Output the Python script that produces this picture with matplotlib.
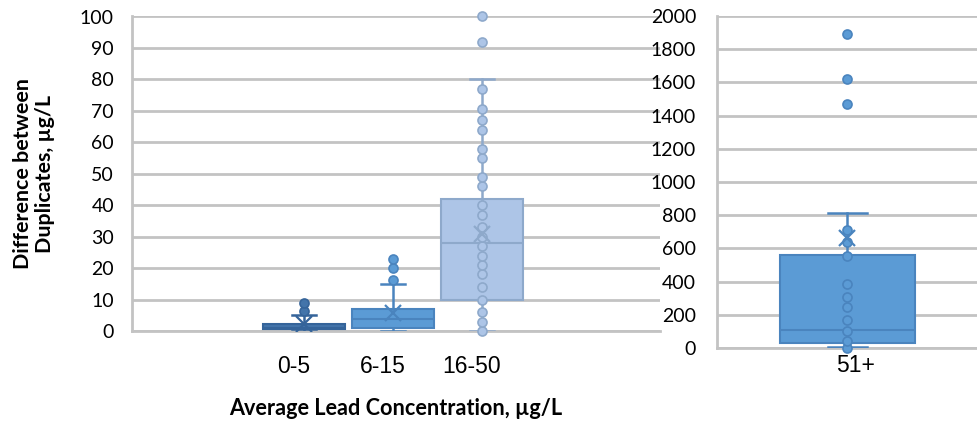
import matplotlib
matplotlib.use("Agg")
import matplotlib.pyplot as plt
from matplotlib.transforms import ScaledTranslation

# left panel: low concentration groups
cats_left = ["0-5", "6-15", "16-50"]
q1_left = [0.5, 1.0, 10.0]
med_left = [1.0, 3.7, 28.0]
q3_left = [2.3, 7.0, 42.0]
wlo_left = [0.0, 0.0, 0.0]
whi_left = [5.0, 15.0, 80.0]
mean_left = [2.2, 5.6, 31.0]
pts_left = [
    [6.3, 9.0],
    [16.2, 20.0, 23.0],
    [0, 3, 6, 10, 14, 18, 21, 24, 27, 30, 33, 37, 40, 46, 49, 55, 58, 64,
     67, 70.5, 77, 92, 100],
]

# right panel: 51+
cats_right = ["51+"]
q1_right = [32.0]
med_right = [110.0]
q3_right = [560.0]
wlo_right = [5.0]
whi_right = [815.0]
mean_right = [665.0]
pts_right = [[0, 45, 100, 170, 250, 310, 385, 555, 640, 710, 1470, 1620, 1890]]

face_left = ["#4374AA", "#5B9BD5", "#ADC5E7"]
edge_left = ["#35649A", "#4A84BE", "#8EA9CB"]
face_right = ["#5B9BD5"]
edge_right = ["#4A84BE"]
GRID = "#C3C3C3"


def draw_panel(ax, cats, q1, med, q3, wlo, whi, mean, pts, faces, edges,
               positions, width, capw):
    stats = []
    for i, c in enumerate(cats):
        stats.append(dict(label=c, q1=q1[i], med=med[i], q3=q3[i],
                          whislo=wlo[i], whishi=whi[i], mean=mean[i], fliers=[]))
    for i, s in enumerate(stats):
        ax.bxp([s], positions=[positions[i]], widths=width, patch_artist=True,
               showmeans=False, showfliers=False, manage_ticks=False,
               boxprops=dict(facecolor=faces[i], edgecolor=edges[i], lw=1.5),
               medianprops=dict(color=edges[i], lw=1.5),
               whiskerprops=dict(color=edges[i], lw=1.8),
               capprops=dict(color=edges[i], lw=1.8),
               capwidths=capw, zorder=3)
        ys = pts[i]
        ax.plot([positions[i]] * len(ys), ys, "o", ms=6.5, mfc=faces[i],
                mec=edges[i], mew=1.2, zorder=4, clip_on=False)
        ax.plot([positions[i]], [mean[i]], "x", ms=11, mew=1.6,
                color=edges[i], zorder=5)
    ax.set_xticks(positions)
    ax.set_xticklabels(cats, fontfamily="Liberation Sans", fontsize=16.5)
    ax.tick_params(axis="both", length=0)
    ax.yaxis.grid(True, color=GRID, lw=2)
    ax.set_axisbelow(True)
    for sp in ["top", "right"]:
        ax.spines[sp].set_visible(False)
    for sp in ["left", "bottom"]:
        ax.spines[sp].set_color(GRID)
        ax.spines[sp].set_linewidth(2)


fig = plt.figure(figsize=(9.78, 4.23), dpi=100)
ax1 = fig.add_axes([132 / 978, 92 / 423, 528 / 978, 314.5 / 423])
ax2 = fig.add_axes([717 / 978, 75 / 423, 261 / 978, 332 / 423])

draw_panel(ax1, cats_left, q1_left, med_left, q3_left, wlo_left, whi_left,
           mean_left, pts_left, face_left, edge_left, [2, 3, 4], 0.92, 0.27)
ax1.set_xlim(0.07, 6.0)
ax1.set_ylim(0, 100)
ax1.set_yticks(range(0, 101, 10))
ax1.tick_params(axis="y", pad=13)
ax1.tick_params(axis="x", pad=17)
for lab in ax1.get_yticklabels():
    lab.set_fontfamily("Lato")
    lab.set_fontsize(14)
# Excel draws these category labels a little left of the box centres
shift = ScaledTranslation(-10 / 100, 0, fig.dpi_scale_trans)
for lab in ax1.get_xticklabels():
    lab.set_transform(lab.get_transform() + shift)

draw_panel(ax2, cats_right, q1_right, med_right, q3_right, wlo_right,
           whi_right, mean_right, pts_right, face_right, edge_right,
           [0.5], 0.52, 0.15)
ax2.set_xlim(0, 1)
ax2.set_ylim(0, 2000)
ax2.set_yticks(range(0, 2001, 200))
ax2.tick_params(axis="y", pad=15)
ax2.tick_params(axis="x", pad=4)
for lab in ax2.get_yticklabels():
    lab.set_fontfamily("Lato")
    lab.set_fontsize(14)
shift2 = ScaledTranslation(8 / 100, 0, fig.dpi_scale_trans)
for lab in ax2.get_xticklabels():
    lab.set_transform(lab.get_transform() + shift2)

fig.text(396 / 978, 1 - 408 / 423, "Average Lead Concentration, µg/L",
         ha="center", va="center", fontfamily="Lato", fontweight="bold",
         fontsize=15.6)
fig.text(34 / 978, 1 - 174 / 423, "Difference between\nDuplicates, µg/L",
         ha="center", va="center", rotation=90, fontfamily="Lato",
         fontweight="bold", fontsize=15.4, linespacing=1.15)

fig.savefig("out.png", dpi=100)
